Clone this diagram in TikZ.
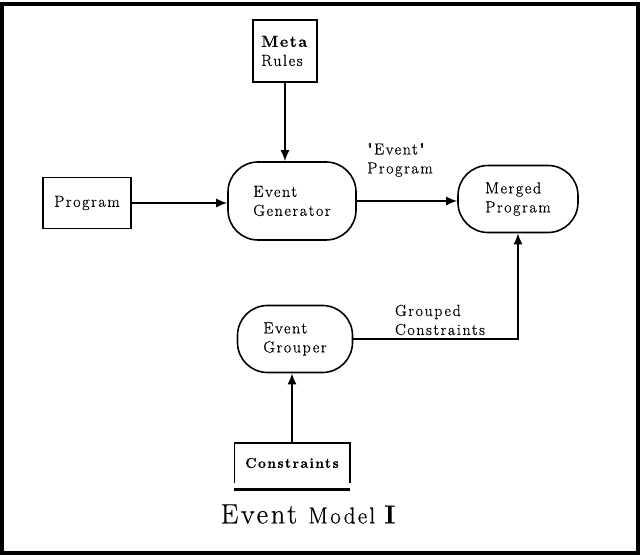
\documentclass[tikz,border=0pt]{standalone}
\usepackage{fontspec}
\newfontfamily\dfont{Latin Modern Roman}[LetterSpace=10, FakeBold=0.6]
\usetikzlibrary{arrows.meta, positioning}

\begin{document}
\begin{tikzpicture}[x=1pt, y=-1pt,
    lbl/.style={font=\dfont\fontsize{16}{19}\selectfont, align=left, inner sep=0pt},
    box/.style={draw, line width=1.6pt, lbl},
    proc/.style={draw, line width=1.6pt, rounded corners=30pt, lbl},
    flow/.style={line width=1.6pt, -{Latex[length=11pt,width=9pt]}}]
    \useasboundingbox (0,0) rectangle (641,556);
    \draw [line width=4pt] (2,4) rectangle (638,553);

    % boxes and processes
    \node [box, minimum width=64, minimum height=62] (meta) at (285,51) {\textbf{Meta}\\Rules};
    \node [box, minimum width=88, minimum height=51] (prog) at (87,203) {Program};
    \node [proc, minimum width=128, minimum height=78] (evgen) at (292,201) {Event\\Generator};
    \node [proc, minimum width=120, minimum height=67] (merged) at (518,199) {Merged\\Program};
    \node [proc, minimum width=115, minimum height=67] (grouper) at (295,339) {Event\\Grouper};
    \node [lbl, minimum width=115, minimum height=39] (cons) at (292,463) {\fontsize{14}{17}\selectfont\bfseries Constraints};

    % open box under the constraints
    \draw [line width=1.6pt] (cons.south west) |- (cons.north east) -- (cons.south east);
    \draw [line width=3.5pt] ([yshift=-7pt]cons.south west) -- ([yshift=-7pt]cons.south east);

    % connectors
    \draw [flow] (meta.south) -- (meta.south |- evgen.north);
    \draw [flow] (prog.east) -- (prog.east -| evgen.west);
    \draw [flow] (evgen.east) -- (evgen.east -| merged.west);
    \draw [flow] (grouper.east) -| (merged.south);
    \draw [flow] (cons.north) -- (cons.north |- grouper.south);

    % connector labels
    \node [lbl] (evprog) at (400,160) {\char34 Event\char34\\Program};
    \node [lbl] (grcons) at (440,320) {Grouped\\Constraints};

    % caption
    \node [font=\dfont] (title) at (308,514) {\fontsize{28}{32}\selectfont Event\ \fontsize{23}{27}\selectfont Model\ \fontsize{26}{30}\selectfont\bfseries I};
\end{tikzpicture}
\end{document}
